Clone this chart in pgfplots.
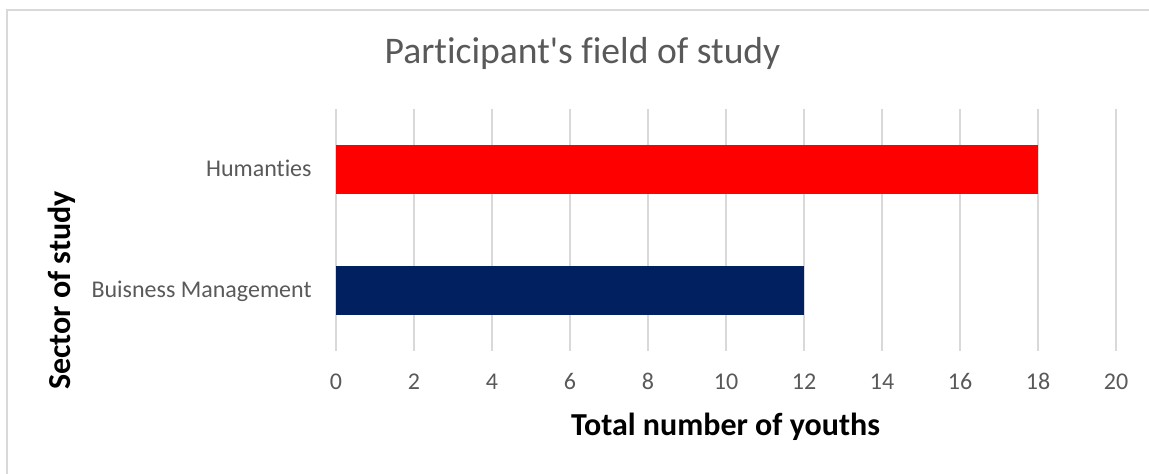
\documentclass[border=0pt]{standalone}
\usepackage{fontspec}
\setmainfont{Carlito}[Ligatures={TeX,NoCommon}]
\usepackage{pgfplots}
\pgfplotsset{compat=1.18}
\definecolor{txtgray}{HTML}{595959}
\definecolor{gridgray}{HTML}{D9D9D9}
\definecolor{navy}{HTML}{002060}
\definecolor{brightred}{HTML}{FF0000}
\begin{document}
\begin{tikzpicture}
\path[use as bounding box] (0,0) rectangle (574.5pt,237pt);
\draw[gridgray, line width=0.75pt] (3.5pt,0pt) -- (3.5pt,232pt) -- (574.5pt,232pt);
\begin{axis}[
  at={(168pt,61.5pt)}, anchor=south west,
  width=390pt, height=121pt, scale only axis,
  xbar, bar width=0.4,
  xmin=0, xmax=20, ymin=-0.5, ymax=1.5,
  xtick={0,2,...,20},
  ytick={0,1},
  yticklabels={Buisness Management, Humanties},
  xmajorgrids=true, ymajorgrids=false,
  major grid style={gridgray, line width=0.75pt},
  axis line style={draw=none},
  major tick length=0pt,
  /pgf/number format/assume math mode=true,
  xticklabel style={font=\fontsize{12}{14}\selectfont, text=txtgray, anchor=base, yshift=-19.5pt},
  yticklabel style={font=\fontsize{12}{14}\selectfont, text=txtgray, anchor=base east, xshift=-12pt+0.333em, yshift=-3.6pt},
  clip=false,
]
\addplot[fill=navy, draw=none, bar shift=0pt] coordinates {(12,0)};
\addplot[fill=brightred, draw=none, bar shift=0pt] coordinates {(18,1)};
\end{axis}
\node[anchor=base, text=txtgray, font=\fontsize{18.8}{22}\selectfont] at (291.25pt,205.35pt) {Participant\textquotesingle s field of study};
\node[anchor=base, font=\bfseries\fontsize{16}{19}\selectfont] at (362.75pt,19.15pt) {Total number of youths};
\node[anchor=base, rotate=90, font=\bfseries\fontsize{16}{19}\selectfont] at (35pt,91.75pt) {Sector of study};
\end{tikzpicture}
\end{document}
